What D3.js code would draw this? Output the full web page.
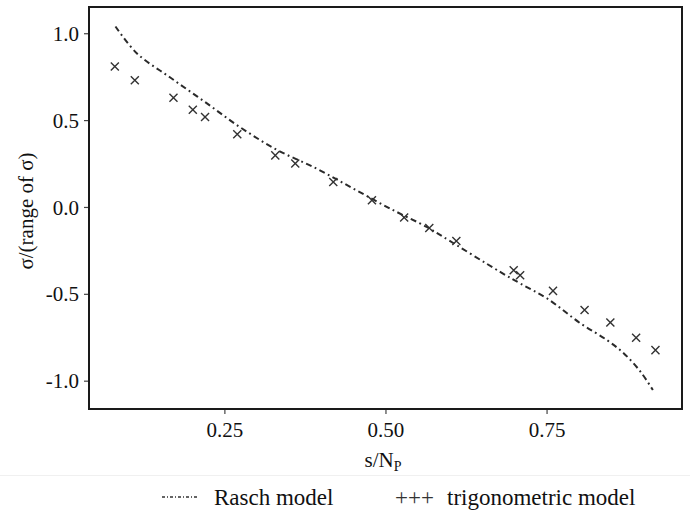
<!DOCTYPE html>
<html>
<head>
<meta charset="utf-8">
<script src="https://cdn.jsdelivr.net/npm/d3@7"></script>
<style>
  body { margin: 0; background: #fff; }
  svg text { font-family: "Liberation Serif", "Times New Roman", Times, serif; }
</style>
</head>
<body>
<div id="chart"></div>
<script>
// values
var trigX = [0.080, 0.111, 0.171, 0.201, 0.220, 0.270, 0.329, 0.360, 0.419, 0.479,
             0.529, 0.568, 0.610, 0.699, 0.709, 0.760, 0.809, 0.849, 0.889, 0.919];
var trigY = [0.809, 0.729, 0.629, 0.560, 0.518, 0.418, 0.297, 0.250, 0.144, 0.039,
             -0.061, -0.121, -0.196, -0.364, -0.393, -0.483, -0.593, -0.665, -0.753, -0.824];

var raschX = [0.081, 0.114, 0.166, 0.220, 0.274, 0.331, 0.393, 0.450, 0.507, 0.564,
              0.590, 0.678, 0.709, 0.751, 0.803, 0.844, 0.870, 0.896, 0.915];
var raschY = [1.039, 0.885, 0.745, 0.604, 0.460, 0.330, 0.221, 0.106, -0.009, -0.115,
              -0.173, -0.374, -0.440, -0.527, -0.671, -0.767, -0.843, -0.949, -1.054];

var xTicks = [0.25, 0.50, 0.75],
    yTicks = [1.0, 0.5, 0.0, -0.5, -1.0];

var legendLabels = ["Rasch model", "trigonometric model"];

var width = 690,
    height = 511;

var margin = {left: 89, top: 7, right: 8, bottom: 102};

var serif = '"Liberation Serif", "Times New Roman", Times, serif';

var svg = d3.select("#chart").append("svg")
    .attr("width", width)
    .attr("height", height);

var xScale = d3.scaleLinear()
    .domain([0.0399, 0.9602])
    .range([margin.left, width - margin.right]);

var yScale = d3.scaleLinear()
    .domain([-1.163, 1.151])
    .range([height - margin.bottom, margin.top]);

// axes
var xAxis = svg.append("g")
    .attr("transform", "translate(0," + (height - margin.bottom) + ")")
    .call(d3.axisBottom(xScale).tickValues(xTicks).tickFormat(d3.format(".2f")).tickSize(5).tickPadding(8));

var yAxis = svg.append("g")
    .attr("transform", "translate(" + margin.left + ",0)")
    .call(d3.axisLeft(yScale).tickValues(yTicks).tickFormat(function(d) {
        return d3.format(".1f")(d).replace("−", "-");
    }).tickSize(5).tickPadding(5));

[xAxis, yAxis].forEach(function(ax) {
    ax.attr("font-family", null).attr("font-size", null);
    ax.select(".domain").remove();
    ax.selectAll("line").attr("stroke", "#444").attr("stroke-width", 1.2);
    ax.selectAll("text")
        .attr("fill", "#111")
        .style("font-family", serif)
        .style("font-size", "21px");
});
yAxis.selectAll("text").attr("dy", "0.34em");

// frame
svg.append("rect")
    .attr("x", xScale.range()[0])
    .attr("y", yScale.range()[1])
    .attr("width", xScale.range()[1] - xScale.range()[0])
    .attr("height", yScale.range()[0] - yScale.range()[1])
    .attr("fill", "none")
    .attr("stroke", "#1a1a1a")
    .attr("stroke-width", 2);

// Rasch model line
var raschData = raschX.map(function(x, i) { return [x, raschY[i]]; });
var line = d3.line()
    .x(function(d) { return xScale(d[0]); })
    .y(function(d) { return yScale(d[1]); })
    .curve(d3.curveCatmullRom);

svg.append("path")
    .datum(raschData)
    .attr("d", line)
    .attr("fill", "none")
    .attr("stroke", "#2a2a2a")
    .attr("stroke-width", 2)
    .attr("stroke-dasharray", "6,3.5,1.8,3.5");

// trigonometric model points
var trigData = trigX.map(function(x, i) { return [x, trigY[i]]; });
svg.selectAll(".pt")
    .data(trigData)
    .enter()
    .append("path")
        .attr("class", "pt")
        .attr("d", d3.symbol(d3.symbolTimes, 44))
        .attr("transform", function(d) {
            return "translate(" + xScale(d[0]) + "," + yScale(d[1]) + ")";
        })
        .attr("fill", "none")
        .attr("stroke", "#333")
        .attr("stroke-width", 1.4);

// axis titles
var xTitle = svg.append("text")
    .attr("x", 383)
    .attr("y", 466.5)
    .attr("text-anchor", "middle")
    .attr("fill", "#111")
    .style("font-family", serif)
    .style("font-size", "21px");
xTitle.append("tspan").text("s/N");
xTitle.append("tspan").attr("dy", 4).style("font-size", "14px").text("P");

svg.append("text")
    .attr("transform", "translate(33,211) rotate(-90)")
    .attr("text-anchor", "middle")
    .attr("fill", "#111")
    .style("font-family", serif)
    .style("font-size", "21px")
    .text("σ/(range of σ)");

// faint separator above legend
svg.append("line")
    .attr("x1", 0).attr("x2", width)
    .attr("y1", 475.5).attr("y2", 475.5)
    .attr("stroke", "#f0f0f0")
    .attr("stroke-width", 1);

// legend
var legendY = 497;
svg.append("line")
    .attr("x1", 162).attr("x2", 199)
    .attr("y1", legendY).attr("y2", legendY)
    .attr("stroke", "#333")
    .attr("stroke-width", 1.3)
    .attr("stroke-dasharray", "3,2,1,2");

svg.append("text")
    .attr("x", 214).attr("y", 505)
    .attr("fill", "#111")
    .style("font-family", serif)
    .style("font-size", "23px")
    .text(legendLabels[0]);

svg.append("text")
    .attr("x", 395).attr("y", 505)
    .attr("fill", "#333")
    .style("font-family", serif)
    .style("font-size", "23px")
    .text("+++");

svg.append("text")
    .attr("x", 447).attr("y", 505)
    .attr("fill", "#111")
    .style("font-family", serif)
    .style("font-size", "23px")
    .text(legendLabels[1]);
</script>
</body>
</html>
